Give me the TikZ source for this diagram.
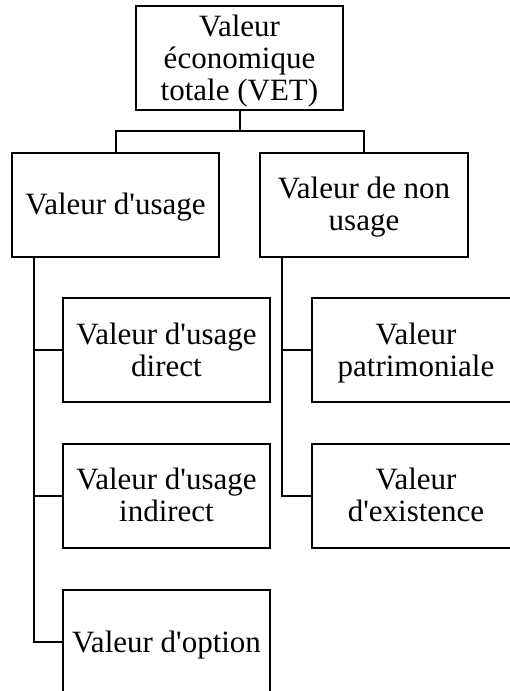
\documentclass[tikz,border=0pt]{standalone}
\usepackage{fontspec}
\setmainfont{Liberation Serif}
\newcommand{\ap}{\textquotesingle}
\tikzset{
  valbox/.style={draw, line width=2pt, minimum width=207pt, minimum height=104pt,
    inner sep=0pt, text width=205pt, align=flush center, font=\fontsize{31}{32}\selectfont,
    execute at begin node={\rule{0pt}{0.89em}},
    execute at end node={\rule[-0.22em]{0pt}{0pt}}},
  branch/.style={line width=2pt}
}
\begin{document}
\begin{tikzpicture}[x=1pt,y=1pt]

\useasboundingbox (0,0) rectangle (509,-691) ;

\node[valbox] (vet) at (239.5,-58) {Valeur\\économique\\totale (VET)} ;

\node[valbox] (usage) at (115.5,-204.5) {Valeur d\ap usage} ;
\node[valbox, minimum width=208pt] (nonusage) at (364,-204.5) {Valeur de non\\usage} ;

\node[valbox] (direct) at (166.5,-350) {Valeur d\ap usage\\direct} ;
\node[valbox] (indirect) at (166.5,-495.5) {Valeur d\ap usage\\indirect} ;
\node[valbox] (option) at (166.5,-642) {Valeur d\ap option} ;

\node[valbox, minimum width=208pt] (patri) at (416,-350) {Valeur\\patrimoniale} ;
\node[valbox, minimum width=208pt] (exist) at (416,-495.5) {Valeur\\d\ap existence} ;

\coordinate (jvet) at (239.5,-131) ;
\coordinate (ltrunk) at (34,-256) ;
\coordinate (rtrunk) at (282,-256) ;

\draw[branch] (vet.south) -- (jvet) ;
\draw[branch] (usage.north) -- (usage.north |- jvet) -- (nonusage.north |- jvet) -- (nonusage.north) ;

\draw[branch] (ltrunk) |- (direct.west) ;
\draw[branch] (ltrunk) |- (indirect.west) ;
\draw[branch] (ltrunk) |- (option.west) ;

\draw[branch] (rtrunk) |- (patri.west) ;
\draw[branch] (rtrunk) |- (exist.west) ;

\end{tikzpicture}
\end{document}
